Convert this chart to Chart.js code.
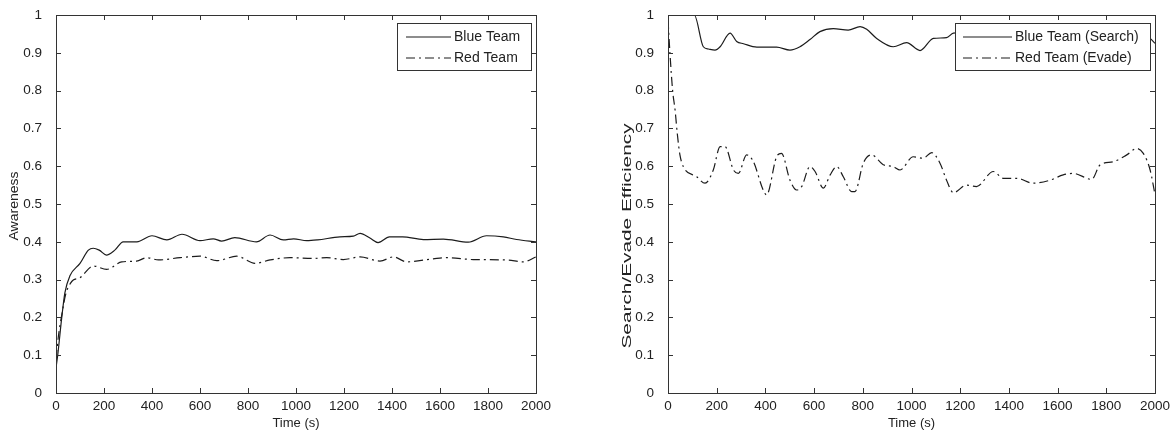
<!DOCTYPE html>
<html>
<head>
<meta charset="utf-8">
<script src="https://cdn.jsdelivr.net/npm/chart.js@4.4.1/dist/chart.umd.min.js"></script>
<style>
	html, body { margin: 0; padding: 0; background: #fff; }
	#wrap { position: relative; width: 1174px; height: 431px; }
	.box { position: absolute; top: 0; height: 431px; }
</style>
</head>
<body>
<div id="wrap">
	<div class="box" style="left:0;width:560px"><canvas id="awareness" width="560" height="431"></canvas></div>
	<div class="box" style="left:600px;width:574px"><canvas id="efficiency" width="574" height="431"></canvas></div>
</div>
<script>
// =====================================
// DATA
// =====================================

// left panel: awareness
const timeBlueA = [0, 8, 24, 37, 58, 100, 135, 155, 180, 210, 245, 280, 337, 400, 462, 525, 600, 655, 690, 745, 835, 892, 947, 990, 1045, 1090, 1183, 1239, 1267, 1308, 1342, 1389, 1444, 1531, 1614, 1718, 1794, 1864, 1919, 2000];
const awarenessBlue = [0.066, 0.105, 0.2, 0.265, 0.31, 0.343, 0.378, 0.383, 0.378, 0.365, 0.378, 0.40, 0.40, 0.416, 0.405, 0.42, 0.403, 0.408, 0.402, 0.411, 0.400, 0.418, 0.405, 0.408, 0.403, 0.405, 0.413, 0.415, 0.4225, 0.41, 0.398, 0.413, 0.413, 0.406, 0.407, 0.399, 0.416, 0.413, 0.406, 0.400];

const timeRedA = [0, 10, 25, 40, 60, 72, 100, 156, 211, 274, 336, 378, 427, 517, 600, 670, 753, 829, 892, 975, 1072, 1128, 1197, 1267, 1350, 1406, 1461, 1572, 1628, 1739, 1878, 1947, 2000];
const awarenessRed = [0.09, 0.15, 0.21, 0.26, 0.29, 0.299, 0.305, 0.336, 0.327, 0.347, 0.349, 0.358, 0.352, 0.358, 0.362, 0.35, 0.362, 0.343, 0.352, 0.358, 0.356, 0.358, 0.353, 0.36, 0.349, 0.36, 0.347, 0.355, 0.358, 0.353, 0.352, 0.347, 0.36];

// right panel: search / evade efficiency
const timeBlueB = [0, 60, 108, 145, 166, 193, 214, 255, 282, 310, 365, 446, 501, 542, 583, 624, 679, 740, 789, 816, 857, 925, 980, 1035, 1090, 1144, 1172, 1250, 1400, 1600, 1800, 1950, 1980, 2000];
const searchBlue = [1, 1, 1, 0.916, 0.910, 0.907, 0.916, 0.952, 0.93, 0.924, 0.915, 0.915, 0.907, 0.916, 0.935, 0.956, 0.964, 0.96, 0.969, 0.962, 0.938, 0.916, 0.927, 0.906, 0.938, 0.94, 0.952, 0.955, 0.95, 0.955, 0.95, 0.955, 0.938, 0.925];

const timeRedB = [0, 8, 19, 29, 38, 49, 63, 118, 152, 186, 214, 234, 269, 289, 323, 350, 391, 405, 446, 466, 501, 528, 549, 583, 604, 638, 666, 693, 720, 754, 768, 802, 836, 884, 925, 953, 1007, 1048, 1083, 1117, 1144, 1172, 1226, 1267, 1336, 1377, 1432, 1500, 1569, 1623, 1664, 1740, 1774, 1829, 1884, 1925, 1952, 1980, 2000];
const evadeRed = [0.987, 0.899, 0.80, 0.749, 0.687, 0.63, 0.599, 0.572, 0.555, 0.59, 0.652, 0.652, 0.59, 0.581, 0.63, 0.613, 0.537, 0.524, 0.625, 0.634, 0.563, 0.537, 0.546, 0.599, 0.586, 0.542, 0.577, 0.599, 0.572, 0.533, 0.533, 0.608, 0.63, 0.604, 0.599, 0.59, 0.625, 0.621, 0.636, 0.608, 0.563, 0.53, 0.55, 0.546, 0.586, 0.568, 0.568, 0.555, 0.563, 0.577, 0.581, 0.565, 0.603, 0.612, 0.63, 0.647, 0.634, 0.59, 0.525];

const timeMin = 0, timeMax = 2000, timeStep = 200;
const valMin = 0, valMax = 1, valStep = 0.1;

// =====================================
// STYLE
// =====================================

const FONT = '"Liberation Sans", Arial, sans-serif';
const INK = '#222';
const DASH_DOT = [9, 4, 2, 4];

const toPoints = (xs, ys) => xs.map((x, i) => ({ x, y: ys[i] }));

const lineSet = (label, xs, ys, dash) => ({
	label,
	data: toPoints(xs, ys),
	borderColor: '#1c1c1c',
	borderWidth: 1.2,
	borderDash: dash,
	pointRadius: 0,
	cubicInterpolationMode: 'monotone',
	fill: false,
});

// matlab style box: frame + inward ticks on all four sides, opaque legend,
// y title drawn by hand because the original is stretched along its length
const framePlugin = {
	id: 'frame',
	afterDraw(chart, args, opts) {
		const { ctx, chartArea: a, scales } = chart;
		const tick = 5;
		ctx.save();
		ctx.strokeStyle = '#333';
		ctx.lineWidth = 1;

		// y title
		const yt = opts.yTitle;
		ctx.save();
		ctx.translate(yt.x, yt.y);
		ctx.rotate(-Math.PI / 2);
		ctx.scale(yt.stretch, 1);
		ctx.font = `${yt.size}px ${FONT}`;
		ctx.fillStyle = INK;
		ctx.textAlign = 'center';
		ctx.textBaseline = 'middle';
		ctx.fillText(yt.text, 0, 0);
		ctx.restore();

		// legend box
		const lg = opts.legend;
		ctx.fillStyle = '#fff';
		ctx.fillRect(lg.x, lg.y, lg.w, lg.h);
		ctx.strokeRect(lg.x + 0.5, lg.y + 0.5, lg.w, lg.h);
		ctx.font = `14px ${FONT}`;
		ctx.textBaseline = 'middle';
		ctx.fillStyle = INK;
		chart.data.datasets.forEach((ds, i) => {
			const cy = lg.y + lg.rowTop + i * lg.rowGap;
			ctx.save();
			ctx.strokeStyle = ds.borderColor;
			ctx.lineWidth = ds.borderWidth;
			ctx.setLineDash(ds.borderDash || []);
			ctx.beginPath();
			ctx.moveTo(lg.x + lg.lineStart, cy);
			ctx.lineTo(lg.x + lg.lineStart + lg.lineLen, cy);
			ctx.stroke();
			ctx.restore();
			ctx.fillText(ds.label, lg.x + lg.lineStart + lg.lineLen + 3, cy);
		});

		// frame
		ctx.strokeRect(Math.round(a.left) + 0.5, Math.round(a.top) + 0.5, Math.round(a.width), Math.round(a.height));

		ctx.beginPath();
		scales.x.ticks.forEach((t) => {
			const px = Math.round(scales.x.getPixelForValue(t.value)) + 0.5;
			ctx.moveTo(px, a.bottom);
			ctx.lineTo(px, a.bottom - tick);
			ctx.moveTo(px, a.top);
			ctx.lineTo(px, a.top + tick);
		});
		scales.y.ticks.forEach((t) => {
			const py = Math.round(scales.y.getPixelForValue(t.value)) + 0.5;
			ctx.moveTo(a.left, py);
			ctx.lineTo(a.left + tick, py);
			ctx.moveTo(a.right, py);
			ctx.lineTo(a.right - tick, py);
		});
		ctx.stroke();
		ctx.restore();
	},
};

const makeChart = (id, cfg) =>
	new Chart(document.getElementById(id), {
		type: 'line',
		data: { datasets: cfg.datasets },
		plugins: [framePlugin],
		options: {
			responsive: false,
			animation: false,
			layout: { padding: { top: 15, right: cfg.padRight, left: 0, bottom: 0 } },
			plugins: {
				legend: { display: false },
				tooltip: { enabled: false },
				frame: { legend: cfg.legend, yTitle: cfg.yTitle },
			},
			scales: {
				x: {
					type: 'linear',
					min: timeMin,
					max: timeMax,
					grid: { display: false },
					border: { display: false },
					ticks: {
						stepSize: timeStep,
						padding: -3,
						color: INK,
						maxRotation: 0,
						font: { family: FONT, size: 13.5 },
						callback: (v) => String(v),
					},
					title: {
						display: true,
						text: 'Time (s)',
						color: INK,
						font: { family: FONT, size: 13 },
						padding: { top: 0, bottom: 0 },
					},
					afterFit: (s) => { s.height = 38; },
				},
				y: {
					type: 'linear',
					min: valMin,
					max: valMax,
					grid: { display: false },
					border: { display: false },
					ticks: {
						stepSize: valStep,
						padding: 6,
						color: INK,
						font: { family: FONT, size: 13.5 },
						callback: (v) => String(Math.round(v * 10) / 10),
					},
					afterFit: (s) => { s.width = cfg.yWidth; },
				},
			},
		},
	});

makeChart('awareness', {
	datasets: [
		lineSet('Blue Team', timeBlueA, awarenessBlue, []),
		lineSet('Red Team', timeRedA, awarenessRed, DASH_DOT),
	],
	yTitle: { text: 'Awareness', x: 15, y: 206, size: 12.5, stretch: 1.12 },
	yWidth: 56,
	padRight: 24,
	legend: { x: 397, y: 23, w: 134, h: 47, lineStart: 9, lineLen: 45, rowTop: 14, rowGap: 21 },
});

makeChart('efficiency', {
	datasets: [
		lineSet('Blue Team (Search)', timeBlueB, searchBlue, []),
		lineSet('Red Team (Evade)', timeRedB, evadeRed, DASH_DOT),
	],
	yTitle: { text: 'Search/Evade Efficiency', x: 27, y: 236, size: 13, stretch: 1.6 },
	yWidth: 68,
	padRight: 19,
	legend: { x: 355, y: 23, w: 195, h: 47, lineStart: 8, lineLen: 49, rowTop: 14, rowGap: 21 },
});
</script>
</body>
</html>
